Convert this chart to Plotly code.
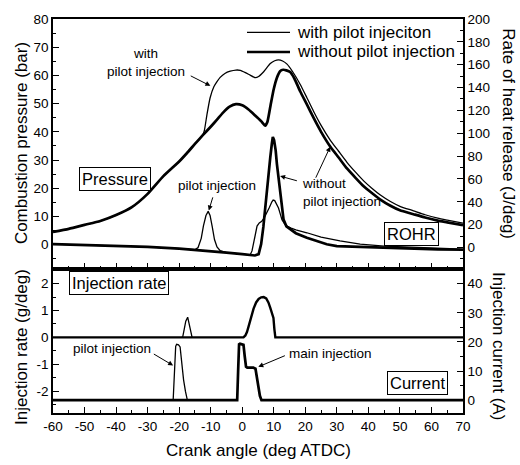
import plotly.graph_objects as go

# ---------------- data ----------------
# Combustion pressure (bar) vs crank angle (deg ATDC)
p_without_x = [-60, -55, -50, -45, -40, -35, -30, -25, -20, -17.5, -15, -12.5, -10, -8, -6, -4, -2, 0, 2, 4, 6,
               7.3, 8, 9, 10, 11, 12, 13, 14, 15.2, 16.5, 18.4, 20.5, 22.6, 25, 28, 30.5, 33.2, 36, 38.5, 41,
               43.8, 47, 50, 54.3, 58, 62, 65, 70]
p_without_y = [4.5, 5.6, 7.0, 8.4, 10.5, 13.3, 18.0, 24.3, 29.5, 32.5, 35.7, 38.8, 41.8, 44.3, 46.9, 48.9, 49.8,
               49.4, 47.9, 45.9, 43.8, 42.2, 43.6, 49.5, 55.2, 59.2, 61.5, 62.0, 61.8, 61.2, 59.0, 54.3, 49.7,
               45.0, 40.0, 34.6, 31.0, 27.0, 23.6, 20.7, 18.4, 16.0, 13.8, 12.2, 10.8, 9.6, 8.5, 7.9, 6.9]

p_with_x = [-60, -55, -50, -45, -40, -35, -30, -25, -20, -17.5, -15, -12.5, -12, -11.2, -10.2, -9, -8, -7,
            -5.5, -3.8, -2, -0.6, 1, 2.5, 4.1, 5.2, 6.8, 8.9, 10.3, 11.5, 12.8, 14.2, 16, 18.4, 20.5, 22.6, 25,
            28, 30.5, 33.2, 36, 38.5, 41, 43.8, 47, 50, 54.3, 58, 62, 65, 70]
p_with_y = [4.5, 5.6, 7.0, 8.4, 10.5, 13.3, 18.0, 24.3, 29.5, 32.5, 35.7, 38.9, 40.5, 46.0, 52.0, 56.0, 57.8,
            59.3, 60.7, 61.5, 61.9, 61.8, 61.0, 60.1, 59.2, 59.6, 61.3, 64.2, 65.2, 65.5, 65.1, 64.0, 61.3,
            56.8, 52.1, 47.3, 42.3, 36.9, 33.2, 29.2, 25.6, 22.6, 20.1, 17.6, 15.3, 13.6, 12.0, 10.6, 9.4,
            8.7, 7.6]

# Rate of heat release (J/deg)
r_without_x = [-60, -50, -40, -30, -20, -15, -10, -5, 0, 2.5, 4, 5.2, 6, 6.7, 7.3, 8.1, 8.9, 9.4, 9.7, 10.1,
               10.6, 11, 11.7, 12.3, 13.1, 14, 15.2, 17, 20.5, 23.5, 26.8, 30, 37.4, 45, 55, 62, 70]
r_without_y = [2.9, 2.3, 1.5, 0.5, -1, -2, -3.2, -4.5, -5.8, -6.8, -7, -5.8, 3, 18, 35.9, 58, 79, 91, 96.7, 94,
               85, 73, 55, 41.6, 24.4, 18.5, 15.8, 12.5, 8.6, 5.5, 2.8, 1.2, 0.5, -0.5, -1.2, -1.6, -2]

r_with_x = [-60, -50, -40, -30, -20, -15, -14, -13, -12.3, -11.5, -10.8, -10.2, -9.5, -8.8, -8, -7, -5, 0,
            2.5, 3.1, 3.6, 4.2, 4.7, 5.4, 6.2, 7, 7.8, 8.6, 9.4, 9.8, 10.3, 11, 11.5, 12.1, 12.6, 13.4, 14.2,
            15.5, 17, 20.5, 25, 31, 37.4, 45, 55, 62, 70]
r_with_y = [2.9, 2.3, 1.5, 0.5, -1, -2, 0, 8, 19, 28, 31.6, 28, 18, 7, 0.5, -2.8, -4.5, -5.8, -6.5, -3, 4.3,
            12, 18.7, 21.5, 23, 26, 30, 35, 40, 41.5, 41, 37.5, 34.5, 29, 24.4, 21, 18.7, 17, 15.5, 12.9, 9,
            5.8, 3, 1.2, 0, -0.8, -1.5]

# Injection rate (g/deg)
ir_pilot_x = [-19.3, -18.9, -18.4, -17.9, -17.3, -16.9, -16.4, -15.9]
ir_pilot_y = [0, 0, 0.3, 0.6, 0.75, 0.55, 0.2, 0]
ir_main_x = [-60, 0.4, 1, 1.5, 2, 2.8, 3.6, 4.4, 5.2, 6, 6.8, 7.6, 8.3, 8.9, 9.4, 9.9, 10.2, 10.5, 70]
ir_main_y = [0, 0, 0.07, 0.2, 0.4, 0.75, 1.07, 1.3, 1.43, 1.49, 1.5, 1.45, 1.3, 1.1, 0.93, 0.72, 0.3, 0, 0]

# Injection current (A)
cur_pilot_x = [-21.9, -21.5, -21.1, -20.8, -20.2, -19.7, -19.2, -18.6, -18.0, -17.4]
cur_pilot_y = [0, 10, 18.5, 19.2, 19.0, 18.3, 12, 7, 3, 0]
cur_main_x = [-60, -1.6, -1.3, -1.0, -0.7, 0.4, 0.8, 1.2, 1.6, 2.5, 3.5, 4.2, 4.7, 5.2, 5.6, 6.1, 70]
cur_main_y = [0, 0, 10, 19.2, 19.4, 19.0, 15, 11.5, 11.2, 11.3, 11.2, 10.8, 7.9, 4, 1.5, 0, 0]

# tick labels (plain hyphen minus as in the original)
x_ticks = [-60, -50, -40, -30, -20, -10, 0, 10, 20, 30, 40, 50, 60, 70]
x_ticklabels = ["-60", "-50", "-40", "-30", "-20", "-10", "0", "10", "20", "30", "40", "50", "60", "70"]
ir_ticks = [-2, -1, 0, 1, 2]
ir_ticklabels = ["-2", "-1", "0", "1", "2"]

legend_names = ["with pilot injeciton", "without pilot injection"]

# ---------------- figure ----------------
FONT = "Arial, Liberation Sans, sans-serif"
THIN = 1.3
THICK = 2.7

fig = go.Figure()
fig.add_trace(go.Scatter(x=p_with_x, y=p_with_y, xaxis="x2", yaxis="y", mode="lines",
                         line=dict(color="black", width=THIN, shape="spline", smoothing=0.5),
                         name=legend_names[0], showlegend=False))
fig.add_trace(go.Scatter(x=p_without_x, y=p_without_y, xaxis="x2", yaxis="y", mode="lines",
                         line=dict(color="black", width=THICK, shape="spline", smoothing=0.5),
                         name=legend_names[1], showlegend=False))
fig.add_trace(go.Scatter(x=r_with_x, y=r_with_y, xaxis="x2", yaxis="y2", mode="lines",
                         line=dict(color="black", width=THIN), showlegend=False))
fig.add_trace(go.Scatter(x=r_without_x, y=r_without_y, xaxis="x2", yaxis="y2", mode="lines",
                         line=dict(color="black", width=THICK), showlegend=False))
fig.add_trace(go.Scatter(x=ir_pilot_x, y=ir_pilot_y, xaxis="x", yaxis="y3", mode="lines",
                         line=dict(color="black", width=THIN), showlegend=False))
fig.add_trace(go.Scatter(x=ir_main_x, y=ir_main_y, xaxis="x", yaxis="y3", mode="lines",
                         line=dict(color="black", width=2.4), showlegend=False))
fig.add_trace(go.Scatter(x=cur_pilot_x, y=cur_pilot_y, xaxis="x", yaxis="y4", mode="lines",
                         line=dict(color="black", width=THIN), showlegend=False))
fig.add_trace(go.Scatter(x=cur_main_x, y=cur_main_y, xaxis="x", yaxis="y4", mode="lines",
                         line=dict(color="black", width=THICK), showlegend=False))

TICKF = dict(family=FONT, size=13.5, color="black")
common = dict(showline=True, linecolor="black", linewidth=1.5, ticks="inside", ticklen=6, tickwidth=1.2,
              tickcolor="black", showgrid=False, zeroline=False, tickfont=TICKF)

split = 0.365
fig.update_layout(
    width=520, height=465,
    margin=dict(l=53, r=57, t=13, b=52),
    plot_bgcolor="white", paper_bgcolor="white",
    font=dict(family=FONT, color="black"),
    showlegend=False,
    xaxis=dict(domain=[0, 1], anchor="y3", range=[-60, 70], tickvals=x_ticks, ticktext=x_ticklabels,
               mirror=True, minor=dict(dtick=5, ticks="inside", ticklen=3, tickcolor="black"), **common),
    xaxis2=dict(domain=[0, 1], anchor="y", range=[-60, 70], dtick=10, mirror=True, matches="x",
                showticklabels=False,
                minor=dict(dtick=5, ticks="inside", ticklen=3, tickcolor="black"), **common),
    yaxis=dict(domain=[split, 1], anchor="x2", range=[-8.7, 80], dtick=10, tick0=0,
               minor=dict(dtick=5, ticks="inside", ticklen=3, tickcolor="black"), **common),
    yaxis2=dict(overlaying="y", side="right", anchor="x2", range=[-19, 200], dtick=20, tick0=0,
                minor=dict(dtick=10, ticks="inside", ticklen=3, tickcolor="black"), **common),
    yaxis3=dict(domain=[0, split], anchor="x", range=[-2.82, 2.54], tickvals=ir_ticks, ticktext=ir_ticklabels,
                minor=dict(dtick=0.5, tick0=0, ticks="inside", ticklen=3, tickcolor="black"), **common),
    yaxis4=dict(overlaying="y3", side="right", anchor="x", range=[-4.4, 45], dtick=10, tick0=0,
                minor=dict(dtick=5, ticks="inside", ticklen=3, tickcolor="black"), **common),
)

# helpers for placing text by pixel position in the 520x465 canvas
L, T, W, H = 53, 13, 410, 400


def px(x, y):
    return (x - L) / W, (T + H - y) / H


annots = []
shapes = []


def text(x, y, s, size=13.5, box=False, xanchor="center", align="center", angle=0):
    ax_, ay_ = px(x, y)
    d = dict(x=ax_, y=ay_, xref="paper", yref="paper", text=s, showarrow=False, xanchor=xanchor,
             yanchor="middle", align=align, textangle=angle,
             font=dict(family=FONT, size=size, color="black"))
    if box:
        d.update(bordercolor="black", borderwidth=1, borderpad=2, bgcolor="white")
    annots.append(d)


def arrow(x0, y0, x1, y1, xr, yr):
    annots.append(dict(x=x1, y=y1, ax=x0, ay=y0, xref=xr, yref=yr, axref=xr, ayref=yr, text="",
                       showarrow=True, arrowhead=2, arrowsize=1, arrowwidth=1, arrowcolor="black"))


def legend_entry(y, name, width):
    x0, yy = px(247, y)
    x1, _ = px(290, y)
    shapes.append(dict(type="line", xref="paper", yref="paper", x0=x0, x1=x1, y0=yy, y1=yy,
                       line=dict(color="black", width=width)))
    text(295, y, name, size=17, xanchor="left", align="left")


legend_entry(26.5, legend_names[0], THIN)
legend_entry(46.5, legend_names[1], THICK)

text(146, 57, "with<br>pilot injection")
text(114.5, 175.5, "Pressure", size=16.5, box=True)
text(217, 182, "pilot injection")
text(300, 189, "without<br>pilot injection", xanchor="left", align="left")
text(411, 231, "ROHR", size=16.5, box=True)
text(118.5, 281.5, "Injection rate", size=16.5, box=True)
text(112, 348, "pilot injection")
text(330, 353, "main injection")
text(417, 383, "Current", size=16.5, box=True)

text(21, 139, "Combustion pressure (bar)", size=17, angle=-90)
text(21, 346, "Injection rate (g/deg)", size=17, angle=-90)
text(509, 129, "Rate of heat release (J/deg)", size=17, angle=90)
text(499, 345, "Injection current (A)", size=17, angle=90)
text(258.5, 451, "Crank angle (deg ATDC)", size=17)

arrow(-16.8, 60.1, -10.1, 56.3, "x2", "y")
arrow(-9.2, 17.3, -10.6, 12.1, "x2", "y")
arrow(17.8, 22.5, 12.0, 24.3, "x2", "y")
arrow(23.1, 23.2, 27.9, 34.7, "x2", "y")
arrow(-28.5, -0.59, -21.9, -1.05, "x", "y3")
arrow(14.0, -0.66, 5.1, -1.10, "x", "y3")

fig.update_layout(annotations=annots, shapes=shapes)
fig.write_html("out.html", config={"displayModeBar": False},
               post_script="document.body.style.margin='0';")
